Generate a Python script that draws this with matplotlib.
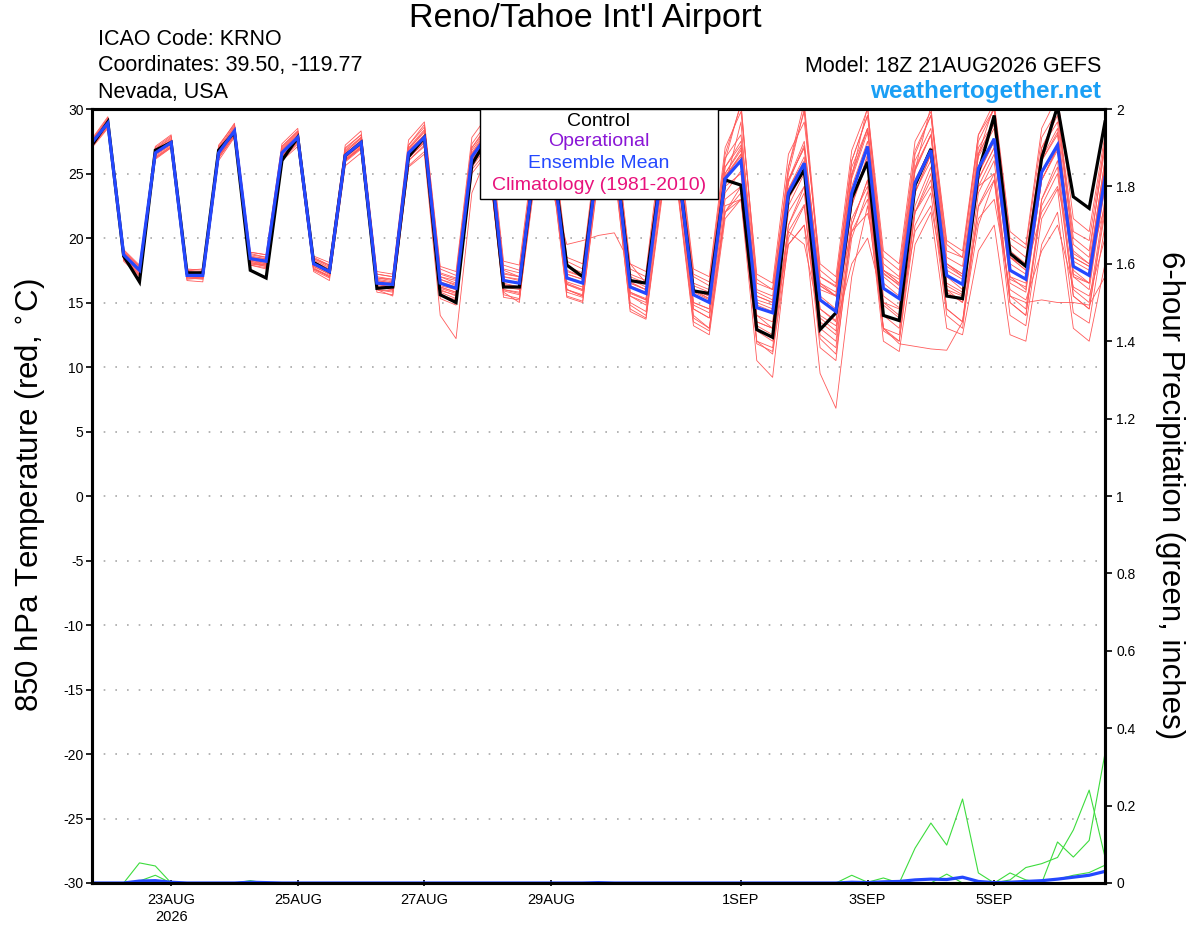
import matplotlib
matplotlib.use("Agg")
import matplotlib.pyplot as plt
import pandas as pd
from matplotlib.patches import Rectangle
from matplotlib.ticker import FuncFormatter

plt.rcParams['font.family'] = ['Liberation Sans', 'DejaVu Sans']
plt.rcParams['axes.unicode_minus'] = False

# ---------------- data ----------------
run_start = '2026-08-21 18:00'
n_steps = 65

ens_mean = [27.4, 28.9, 18.7, 17.5, 26.6, 27.4, 17.1, 17.1,
            26.6, 28.3, 18.4, 18.2, 26.6, 27.8, 18.0, 17.4,
            26.4, 27.4, 16.5, 16.4, 26.6, 27.8, 16.5, 16.1,
            26.3, 28.0, 16.7, 16.5, 26.0, 27.3, 16.9, 16.5,
            26.5, 27.0, 16.2, 15.7, 25.5, 25.8, 15.6, 15.0,
            24.6, 26.0, 14.6, 14.2, 23.5, 25.8, 15.2, 14.3,
            23.5, 27.1, 16.1, 15.3, 24.3, 26.8, 17.1, 16.4,
            25.4, 27.7, 17.5, 16.8, 25.1, 27.2, 17.8, 17.1,
            24.7]

control = [27.2, 29.0, 18.6, 16.6, 26.8, 27.4, 17.3, 17.3,
           26.8, 28.2, 17.5, 16.9, 26.0, 27.8, 18.1, 17.4,
           26.4, 27.4, 16.1, 16.2, 26.3, 27.8, 15.6, 15.0,
           25.7, 27.8, 16.2, 16.2, 26.0, 27.0, 17.9, 17.0,
           26.5, 27.0, 16.7, 16.5, 25.5, 25.8, 15.9, 15.7,
           24.5, 24.1, 12.9, 12.3, 23.3, 25.3, 12.9, 14.2,
           23.1, 25.9, 14.0, 13.6, 24.1, 26.9, 15.5, 15.3,
           25.1, 29.5, 18.8, 17.8, 26.2, 30.2, 23.2, 22.3,
           29.0]

m01 = [27.6,29.3,19.0,17.8,27.0,27.9,17.5,17.6, 27.1,28.9,18.9,18.7,27.3,28.5,18.6,18.1,
       27.2,28.3,17.4,17.2,27.6,29.0,17.8,17.4, 27.8,29.5,18.2,17.9,27.6,29.0,18.5,18.0,
       28.0,28.8,18.0,17.4,27.6,28.0,17.6,17.0, 27.0,29.8,17.2,16.5,26.5,29.0,18.0,17.0,
       26.8,30.0,19.0,18.0,27.5,29.8,19.8,19.0, 28.0,30.0,20.0,19.2,27.8,29.9,20.5,19.8, 27.5]
m02 = [27.1,28.6,18.3,17.1,26.2,27.0,16.7,16.6, 26.0,27.8,17.9,17.6,26.0,27.1,17.4,16.7,
       25.6,26.6,15.8,15.6,25.6,26.7,15.3,14.8, 25.0,26.6,15.4,15.2,24.6,25.8,15.4,15.0,
       24.8,25.3,14.5,13.8,23.4,23.8,13.5,12.8, 22.0,23.5,11.8,11.2,20.5,22.6,12.2,11.0,
       20.0,23.6,12.8,12.0,21.0,23.5,14.0,13.0, 22.4,24.5,14.0,13.2,21.5,23.8,14.2,13.4, 21.0]
m03 = [27.3,28.8,18.5,17.3,26.5,27.3,17.0,16.9, 26.4,28.1,18.2,17.9,26.4,27.6,17.7,17.0,
       26.0,27.0,16.0,15.5,25.5,26.5,14.0,12.2, 23.5,26.5,15.8,15.0,25.5,27.0,16.0,15.5,
       26.0,27.5,16.5,16.0,26.0,27.0,16.0,15.5, 25.5,27.5,15.5,15.0,24.5,27.0,16.5,15.8,
       25.0,28.5,17.5,16.5,25.5,28.0,18.0,17.2, 26.5,30.3,18.5,17.5,26.0,28.0,18.5,17.8, 25.5]
m04 = [27.5,29.0,18.8,17.6,26.7,27.6,17.3,17.2, 26.7,28.5,18.5,18.4,26.8,28.0,18.2,17.6,
       26.6,27.8,16.9,16.7,26.9,28.3,17.0,16.5, 26.5,28.2,17.5,17.0,25.0,24.0,19.5,19.8,
       20.2,20.4,18.0,16.5,24.0,26.0,16.0,15.5, 25.0,27.0,14.0,13.0,22.5,25.0,14.5,13.5,
       22.5,26.0,15.0,14.5,23.5,26.5,16.5,15.8, 25.0,27.5,17.0,16.0,24.5,27.0,17.0,16.5, 24.0]
m05 = [27.2,28.7,18.6,17.4,26.4,27.2,17.0,17.0, 26.3,28.0,18.0,17.8,26.1,27.3,17.6,17.0,
       26.0,27.0,16.2,16.0,26.2,27.4,16.0,15.5, 25.8,27.5,16.0,15.8,25.5,26.8,16.0,15.6,
       25.8,26.5,15.5,14.8,24.5,25.0,14.0,13.0, 22.5,23.0,10.5, 9.2,20.0,22.5,11.5,10.5,
       21.0,24.5,13.0,12.0,22.0,25.0,14.5,13.5, 23.5,26.0,15.0,14.0,23.0,25.5,15.5,14.5, 22.5]
m06 = [27.4,28.9,18.7,17.5,26.6,27.5,17.2,17.1, 26.6,28.3,18.3,18.1,26.6,27.8,18.0,17.3,
       26.3,27.3,16.4,16.2,26.4,27.6,16.2,15.8, 26.0,27.8,16.5,16.2,25.8,27.0,16.5,16.0,
       26.0,26.5,15.5,15.0,25.0,25.5,14.5,13.8, 23.0,24.0,12.0,11.0,19.5,21.0, 9.5, 6.8,
       17.0,22.5,13.0,12.5,22.5,25.5,16.0,15.5, 25.0,27.5,17.0,16.5,25.0,27.0,17.5,16.5, 24.5]
m07 = [27.3,28.8,18.6,17.4,26.5,27.3,17.1,17.0, 26.5,28.2,18.4,18.1,26.5,27.7,17.9,17.3,
       26.3,27.2,16.6,16.4,26.5,27.7,16.3,16.0, 26.1,27.7,16.4,16.2,25.7,27.0,16.6,16.2,
       26.2,26.7,15.8,15.3,25.0,25.3,15.0,14.5, 24.0,25.0,13.5,13.0,22.0,24.0,13.5,12.5,
       21.5,24.0,13.0,11.8,11.6,11.4,11.3,13.5, 21.0,24.5,15.5,14.5,23.0,26.0,16.0,15.0, 23.0]
m08 = [27.7,29.4,19.1,17.9,27.1,28.0,17.6,17.5, 27.2,28.8,18.9,18.7,27.1,28.3,18.5,17.9,
       27.0,28.0,17.2,17.0,27.2,28.6,17.2,16.8, 27.0,28.6,17.3,17.0,26.8,28.0,17.5,17.0,
       27.2,28.0,17.0,16.5,26.5,27.0,16.5,16.0, 26.0,30.5,16.0,15.5,25.5,30.5,17.5,16.5,
       26.0,29.5,18.0,17.0,26.5,29.5,19.0,18.5, 28.0,30.5,20.5,19.5,28.5,31.0,21.5,20.5, 28.0]
m09 = [27.4,28.9,18.8,17.6,26.7,27.5,17.2,17.2, 26.8,28.4,18.5,18.3,26.8,28.0,18.2,17.5,
       26.5,27.6,16.8,16.6,26.8,28.0,16.8,16.4, 26.5,28.3,17.0,16.8,26.3,27.6,17.2,16.8,
       26.8,27.5,16.5,16.0,25.8,26.2,16.0,15.3, 24.8,26.5,15.0,14.5,23.8,26.0,16.0,15.5,
       20.5,21.9,17.0,16.0,22.0,24.0,18.0,17.0, 24.0,26.5,18.5,17.5,22.0,24.0,19.0,18.0, 22.5]
m10 = [27.5,29.0,18.7,17.5,26.6,27.4,17.0,17.0, 26.5,28.2,18.3,18.0,26.5,27.8,18.0,17.4,
       26.4,27.5,16.7,16.5,26.7,27.9,16.6,16.2, 26.4,28.2,16.8,16.5,26.2,27.4,17.0,16.5,
       26.5,27.2,16.3,15.8,25.5,26.0,15.8,15.2, 24.8,26.3,14.8,14.3,23.8,26.3,15.5,14.5,
       24.0,27.5,16.5,15.5,24.5,27.0,17.0,16.0, 24.0,25.0,15.5,15.0,15.2,15.0,15.0,14.8, 17.0]
m11 = [27.0,28.5,18.2,17.0,26.1,27.0,16.8,16.9, 26.2,27.9,18.0,17.9,26.2,27.5,17.6,17.1,
       26.0,27.0,16.0,15.9,26.0,27.2,15.8,15.3, 25.5,27.2,15.9,15.6,25.2,26.5,15.8,15.4,
       25.6,26.2,15.0,14.3,24.2,24.8,14.5,13.8, 22.0,23.0,13.5,13.0,19.5,21.0,14.0,13.2,
       18.0,20.0,15.0,14.0,20.5,22.5,15.8,15.0, 21.5,23.0,16.0,15.2,19.0,21.0,16.2,15.5, 20.0]
m12 = [27.6,29.2,18.9,17.7,26.9,27.7,17.4,17.3, 26.9,28.6,18.7,18.5,27.0,28.2,18.4,17.8,
       26.8,27.8,17.0,16.8,27.0,28.4,17.3,16.9, 27.0,28.8,17.6,17.3,27.0,28.3,17.8,17.3,
       27.5,28.2,17.2,16.7,26.8,27.2,17.0,16.3, 26.2,28.0,16.5,16.0,25.0,30.0,17.0,16.3,
       25.5,28.5,17.5,16.8,26.0,28.5,18.5,17.8, 27.0,29.0,19.0,18.0,27.0,29.0,19.5,18.5, 27.5]
m13 = [27.2,28.8,18.5,17.4,26.5,27.3,17.0,17.0, 26.4,28.0,18.1,17.9,26.3,27.5,17.8,17.2,
       26.1,27.1,16.3,16.1,26.3,27.5,16.1,15.7, 25.9,27.6,16.2,16.0,25.6,26.9,16.4,15.9,
       26.0,26.6,15.7,15.2,24.8,25.2,14.8,14.2, 23.5,25.2,13.2,12.5,20.5,19.5,13.8,12.8,
       22.5,26.5,14.8,13.8,23.5,26.5,16.0,15.0, 24.5,27.0,16.5,15.8,24.5,27.0,17.0,16.0, 24.0]
m14 = [27.5,29.1,18.8,17.6,26.8,27.6,17.3,17.2, 26.8,28.5,18.6,18.4,26.9,28.1,18.3,17.7,
       26.7,27.7,16.9,16.8,26.9,28.2,17.0,16.7, 26.8,28.5,17.2,17.0,26.6,27.8,17.4,17.0,
       27.0,27.6,16.8,16.2,26.2,26.6,16.3,15.8, 25.5,27.2,15.8,15.2,24.5,27.0,16.3,15.5,
       24.8,30.2,17.2,16.4,25.3,28.0,17.8,17.0, 26.3,28.5,18.0,17.2,26.0,28.2,18.5,17.8, 26.0]
m15 = [27.3,28.7,18.4,17.2,26.3,27.1,16.9,16.8, 26.3,28.0,18.1,17.8,26.3,27.5,17.6,17.0,
       26.1,27.0,16.2,16.0,26.2,27.4,15.9,15.6, 25.7,27.3,16.0,15.7,25.3,26.6,16.0,15.5,
       25.6,26.0,14.8,14.0,23.5,24.0,13.8,13.0, 22.0,24.0,12.8,12.0,21.0,23.5,12.5,11.5,
       21.0,24.5,14.0,13.0,22.0,24.5,14.5,13.5, 22.5,25.0,15.0,14.0,22.5,25.0,15.5,14.5, 22.0]
m16 = [27.4,29.0,18.7,17.5,26.6,27.4,17.1,17.1, 26.6,28.3,18.4,18.2,26.6,27.8,18.0,17.4,
       26.4,27.4,16.6,16.4,26.6,27.8,16.5,16.1, 26.3,28.0,16.7,16.5,26.0,27.3,16.9,16.5,
       26.5,27.0,16.2,15.7,25.5,25.8,15.6,15.0, 24.6,26.5,15.2,14.8,24.5,27.5,16.5,15.5,
       24.8,28.5,17.5,16.5,25.2,28.0,17.5,16.8, 26.5,28.8,18.5,17.8,26.5,30.4,18.8,18.0, 26.0]
m17 = [27.6,29.1,18.9,17.8,26.9,27.8,17.5,17.4, 27.0,28.7,18.8,18.5,27.1,28.3,18.4,17.9,
       26.9,28.0,17.2,17.0,27.2,28.8,17.6,17.1, 27.3,29.0,17.9,17.5,27.2,28.7,18.2,17.6,
       27.6,28.5,17.6,17.0,26.9,27.5,17.2,16.6, 26.5,30.3,16.8,16.0,25.5,29.8,17.0,16.2,
       26.0,29.5,18.5,17.5,26.8,29.5,19.5,18.5, 27.5,30.0,19.5,18.5,27.0,29.5,20.0,19.0, 27.0]
m18 = [27.1,28.6,18.4,17.2,26.2,27.1,16.9,16.9, 26.2,27.9,17.9,17.7,26.1,27.4,17.5,16.9,
       25.9,26.9,16.0,15.8,26.0,27.1,15.6,15.2, 25.3,26.8,15.6,15.3,24.9,26.0,15.5,15.1,
       25.0,25.6,14.3,13.7,23.0,23.6,13.2,12.5, 21.5,23.0,12.0,11.5,21.0,24.0,13.0,12.0,
       20.5,23.0,12.0,11.2,19.5,22.0,13.0,12.5, 19.0,21.0,12.5,12.0,19.5,22.0,13.0,12.0, 18.0]
m19 = [27.5,29.0,18.6,17.5,26.7,27.5,17.3,17.2, 26.7,28.4,18.5,18.2,26.7,27.9,18.1,17.5,
       26.5,27.5,16.7,16.5,26.7,28.0,16.8,16.3, 26.6,28.4,17.0,16.7,26.4,27.7,17.2,16.8,
       26.9,27.6,16.6,16.0,25.8,26.3,15.9,15.3, 25.0,26.8,15.5,15.0,24.3,27.2,16.3,15.5,
       24.6,28.2,17.3,16.3,25.3,30.2,18.0,17.2, 26.5,29.0,18.5,17.8,26.2,28.5,18.2,17.5, 25.5]
m20 = [27.3,28.8,18.6,17.4,26.5,27.3,17.0,16.9, 26.4,28.1,18.2,18.0,26.4,27.6,17.8,17.2,
       26.2,27.2,16.4,16.2,26.4,27.6,16.2,15.8, 26.0,27.6,16.3,16.1,25.7,27.0,16.4,16.0,
       26.2,26.8,15.8,15.2,25.0,25.4,15.0,14.5, 24.0,29.0,14.0,13.5,23.0,25.2,14.5,13.6,
       22.8,26.3,15.5,14.6,23.6,26.0,16.3,15.6, 24.6,27.0,16.8,16.2,24.5,26.8,17.2,16.5, 24.5]
members = [m01, m02, m03, m04, m05, m06, m07, m08, m09, m10,
           m11, m12, m13, m14, m15, m16, m17, m18, m19, m20]

# 6-hour precipitation (inches)
precip_mean = [0, 0, 0, 0.005, 0.006, 0.002, 0, 0,
               0, 0, 0.002, 0.001, 0, 0, 0, 0,
               0, 0, 0, 0, 0, 0, 0, 0,
               0, 0, 0, 0, 0, 0, 0, 0,
               0.001, 0, 0, 0, 0, 0, 0, 0,
               0, 0, 0, 0, 0, 0, 0, 0,
               0.002, 0.001, 0.003, 0.004, 0.008, 0.010, 0.009, 0.015,
               0.004, 0.001, 0.002, 0.004, 0.006, 0.010, 0.015, 0.020,
               0.030]
pm_a = [0, 0, 0, 0.052, 0.044, 0, 0, 0,   0, 0, 0, 0, 0, 0, 0, 0,
        0, 0, 0, 0, 0, 0, 0, 0,           0, 0, 0, 0, 0, 0, 0, 0,
        0, 0, 0, 0, 0, 0, 0, 0,           0, 0, 0, 0, 0, 0, 0, 0,
        0, 0, 0, 0, 0, 0, 0, 0,           0, 0, 0, 0, 0, 0, 0, 0, 0]
pm_b = [0, 0, 0, 0.005, 0.020, 0, 0, 0,   0, 0, 0.006, 0, 0, 0, 0, 0,
        0, 0, 0, 0, 0, 0, 0, 0,           0, 0, 0, 0, 0, 0, 0, 0,
        0, 0, 0, 0, 0, 0, 0, 0,           0, 0, 0, 0, 0, 0, 0, 0,
        0, 0, 0, 0, 0, 0, 0, 0,           0, 0, 0, 0, 0, 0, 0, 0, 0]
pm_c = [0, 0, 0, 0, 0, 0, 0, 0,           0, 0, 0, 0, 0, 0, 0, 0,
        0, 0, 0, 0, 0, 0, 0, 0,           0, 0, 0, 0, 0, 0, 0, 0,
        0, 0, 0, 0, 0, 0, 0, 0,           0, 0, 0, 0, 0, 0, 0, 0,
        0, 0, 0, 0, 0.090, 0.155, 0.098, 0.217,
        0.026, 0, 0.026, 0.008, 0, 0, 0, 0, 0]
pm_d = [0, 0, 0, 0, 0, 0, 0, 0,           0, 0, 0, 0, 0, 0, 0, 0,
        0, 0, 0, 0, 0, 0, 0, 0,           0, 0, 0, 0, 0, 0, 0, 0,
        0, 0, 0, 0, 0, 0, 0, 0,           0, 0, 0, 0, 0, 0, 0, 0,
        0, 0, 0, 0, 0, 0, 0, 0,
        0, 0, 0.008, 0.040, 0.050, 0.066, 0.137, 0.240, 0.067]
pm_e = [0, 0, 0, 0, 0, 0, 0, 0,           0, 0, 0, 0, 0, 0, 0, 0,
        0, 0, 0, 0, 0, 0, 0, 0,           0, 0, 0, 0, 0, 0, 0, 0,
        0, 0, 0, 0, 0, 0, 0, 0,           0, 0, 0, 0, 0, 0, 0, 0,
        0, 0, 0, 0, 0, 0, 0, 0,
        0, 0, 0, 0.004, 0, 0.106, 0.067, 0.110, 0.335]
pm_f = [0, 0, 0, 0, 0, 0, 0, 0,           0, 0, 0, 0, 0, 0, 0, 0,
        0, 0, 0, 0, 0, 0, 0, 0,           0, 0, 0, 0, 0, 0, 0, 0,
        0, 0, 0, 0, 0, 0, 0, 0,           0, 0, 0, 0, 0, 0, 0, 0,
        0.020, 0.002, 0.013, 0, 0, 0, 0.023, 0,
        0, 0, 0, 0, 0.005, 0.010, 0.020, 0.027, 0.046]
precip_members = [pm_a, pm_b, pm_c, pm_d, pm_e, pm_f]

tick_dates = ['2026-08-23', '2026-08-25', '2026-08-27', '2026-08-29',
              '2026-09-01', '2026-09-03', '2026-09-05']
tick_labels = ['23AUG\n2026', '25AUG', '27AUG', '29AUG', '1SEP', '3SEP', '5SEP']

title = "Reno/Tahoe Int'l Airport"
info_left = ['ICAO Code: KRNO', 'Coordinates: 39.50, -119.77', 'Nevada, USA']
model_text = 'Model: 18Z 21AUG2026 GEFS'
site_text = 'weathertogether.net'
legend_items = [('Control', 'black'), ('Operational', '#8a16d6'),
                ('Ensemble Mean', '#2448ff'), ('Climatology (1981-2010)', '#e8127c')]

# ---------------- figure ----------------
W, H = 1200, 927
L, R, T, B = 92, 1105, 109, 883
times = pd.date_range(run_start, periods=n_steps, freq='6h')

fig = plt.figure(figsize=(W / 100, H / 100), dpi=100)
ax = fig.add_axes([L / W, 1 - B / H, (R - L) / W, (B - T) / H])

for m in members:
    ax.plot(times, m, color='#ff5a5a', lw=0.6, zorder=2)
ax.plot(times, control, color='black', lw=2.3, zorder=4, solid_joinstyle='miter')
ax.plot(times, ens_mean, color='#2448ff', lw=2.3, zorder=5, solid_joinstyle='miter')

ax.set_ylim(-30, 30)
ax.set_xlim(times[0], times[-1])
ax.set_yticks(list(range(-30, 31, 5)))
ax.yaxis.grid(True, linestyle=(0, (1, 6)), color='#a8a8a8', lw=1.2)
ax.set_axisbelow(True)
ax.set_xticks(pd.to_datetime(tick_dates))
ax.set_xticklabels(tick_labels)
ax.tick_params(axis='y', direction='out', length=4.5, width=1.2, pad=1.5, labelsize=10)
ax.tick_params(axis='x', direction='inout', length=5, width=1.2, pad=5, labelsize=10.5)
for s in ax.spines.values():
    s.set_linewidth(2.2)

ax2 = ax.twinx()
for p in precip_members:
    ax2.plot(times, p, color='#3ddc3d', lw=0.8, zorder=1)
ax2.plot(times, precip_mean, color='#2448ff', lw=2.3, zorder=2)
ax2.set_ylim(0, 2)
ax2.set_xlim(times[0], times[-1])
ax2.set_yticks([i / 5 for i in range(0, 11)])
ax2.yaxis.set_major_formatter(FuncFormatter(lambda v, p: f'{v:g}'))
ax2.tick_params(axis='y', direction='out', length=5, width=1.2, pad=3, labelsize=10)
for s in ax2.spines.values():
    s.set_linewidth(2.2)
    s.set_zorder(3)

# axis labels
fig.text(30 / W, 1 - 495 / H, '850 hPa Temperature (red, $^{\\circ}$C)', rotation=90,
         ha='center', va='center', fontsize=22.5)
fig.text(1170 / W, 1 - 495 / H, '6-hour Precipitation (green, inches)', rotation=270,
         ha='center', va='center', fontsize=22.5)

# title and info
fig.text(585 / W, 1 - 18 / H, title, ha='center', va='center', fontsize=24.5)
for txt, yb in zip(info_left, [45, 71.5, 98]):
    fig.text(98 / W, 1 - yb / H, txt, ha='left', va='baseline', fontsize=15.5)
fig.text(1101 / W, 1 - 71.5 / H, model_text, ha='right', va='baseline', fontsize=15.5)
fig.text(1101 / W, 1 - 98 / H, site_text, ha='right', va='baseline', fontsize=17.5,
         fontweight='bold', color='#1a9ff5')

# legend box
fig.patches.append(Rectangle((480 / W, 1 - 199 / H), 238 / W, 90 / H,
                             transform=fig.transFigure, facecolor='white',
                             edgecolor='black', lw=1.0, zorder=10))
for (txt, col), yc in zip(legend_items, [121, 142, 163, 185]):
    fig.text(599 / W, 1 - yc / H, txt, ha='center', va='center', fontsize=14,
             color=col, zorder=11)

fig.savefig('out.png', dpi=100, facecolor='white')
